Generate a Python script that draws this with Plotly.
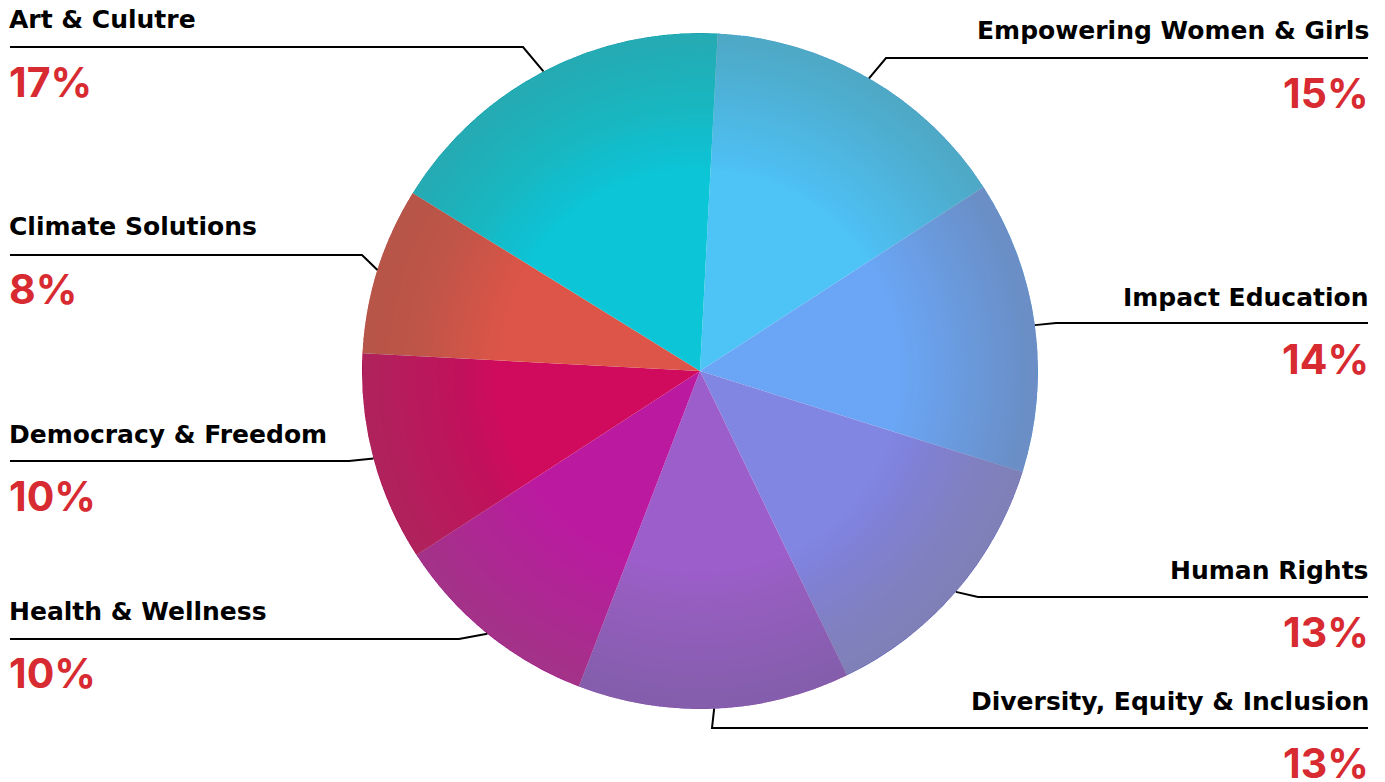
import math
import plotly.graph_objects as go

# ---- data ----
categories = ["Empowering Women & Girls", "Impact Education", "Human Rights",
              "Diversity, Equity & Inclusion", "Health & Wellness",
              "Democracy & Freedom", "Climate Solutions", "Art & Culutre"]
values = [15, 14, 13, 13, 10, 10, 8, 17]
pct_labels = ["15%", "14%", "13%", "13%", "10%", "10%", "8%", "17%"]

# ---- style ----
colors = ["#4ec3f6", "#6aa6f5", "#8286e3", "#9c5ecb", "#bb1aa0",
          "#d00a5c", "#dc5548", "#0cc6d8"]
W, H = 1385, 782
CX, CY, R = 700, 371, 338
ROT = 3
# label layout: side, title centre y, leader line y, elbow x
label_side = ["R", "R", "R", "R", "L", "L", "L", "L"]
title_y = [31, 297, 570, 701, 611, 434, 227, 20]
line_y = [58, 323, 597, 728, 639, 461, 255, 47]
elbow_x = [886, 1056, 978, 712, 459, 349, 362, 523]
LEFT_X, RIGHT_X = 10, 1368
TEXT_PAD = 3
RED = "#d72a31"
TITLE_FONT = "DejaVu Sans"
PCT_FONT = "Inter"

def px(x):
    return x / W

def py(y):
    return 1 - y / H

fig = go.Figure()
dom = dict(x=[px(CX - R), px(CX + R)], y=[py(CY + R), py(CY - R)])
fig.add_trace(go.Pie(labels=categories, values=values, sort=False,
                     direction="clockwise", rotation=ROT,
                     marker=dict(colors=colors, line=dict(width=0)),
                     textinfo="none", hoverinfo="label+percent",
                     domain=dom, showlegend=False))

# vignette rings (soft darkening toward the rim)
n_rings = 24
for k in range(n_rings):
    h = 0.6 + k * (0.385 / n_rings)
    fig.add_trace(go.Pie(values=[1], hole=h, sort=False,
                         marker=dict(colors=["rgba(110,110,130,0.015)"], line=dict(width=0)),
                         textinfo="none", hoverinfo="skip", domain=dom,
                         showlegend=False))

shapes = []
annotations = []
total = sum(values)
cum = 0
for i, (cat, v) in enumerate(zip(categories, values)):
    mid = ROT + (cum + v / 2) / total * 360
    cum += v
    a = math.radians(mid)
    sx = CX + R * math.sin(a)
    sy = CY - R * math.cos(a)
    ex = RIGHT_X if label_side[i] == "R" else LEFT_X
    path = f"M {px(sx)},{py(sy)} L {px(elbow_x[i])},{py(line_y[i])} L {px(ex)},{py(line_y[i])}"
    shapes.append(dict(type="path", path=path, xref="paper", yref="paper",
                       line=dict(color="black", width=2)))
    anchor = "right" if label_side[i] == "R" else "left"
    tx = ex + TEXT_PAD if label_side[i] == "R" else ex - TEXT_PAD
    annotations.append(dict(text=f"<b>{cat}</b>", x=px(tx), y=py(title_y[i]),
                            xref="paper", yref="paper", xanchor=anchor, yanchor="middle",
                            showarrow=False, font=dict(family=TITLE_FONT, size=25, color="#000")))
    annotations.append(dict(text=f"<b>{pct_labels[i]}</b>", x=px(tx), y=py(title_y[i] + 62),
                            xref="paper", yref="paper", xanchor=anchor, yanchor="middle",
                            showarrow=False, font=dict(family=PCT_FONT, size=41, color=RED)))

fig.update_layout(width=W, height=H, margin=dict(l=0, r=0, t=0, b=0),
                  paper_bgcolor="white", plot_bgcolor="white",
                  shapes=shapes, annotations=annotations)
fig.write_html("out.html")
